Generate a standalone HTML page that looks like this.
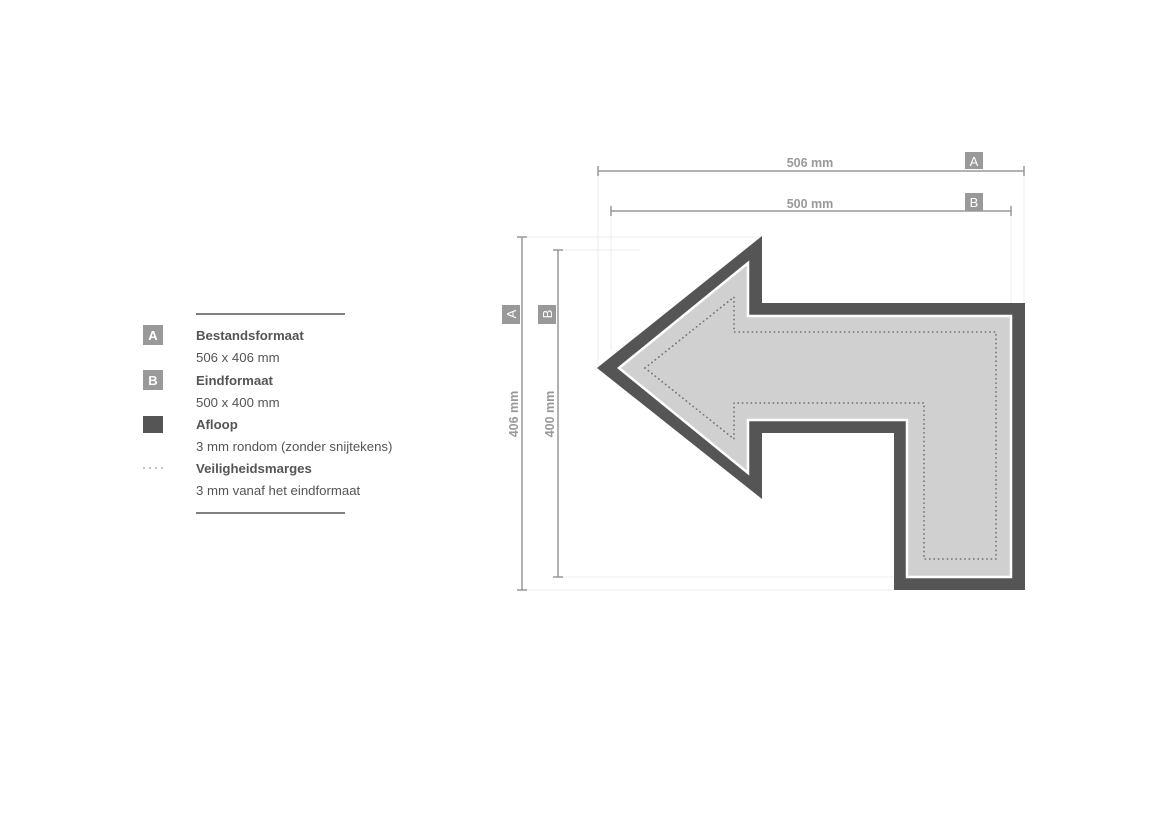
<!DOCTYPE html>
<html><head><meta charset="utf-8"><style>
html,body{margin:0;padding:0;background:#fff;}
body{width:1169px;height:827px;position:relative;overflow:hidden;font-family:"Liberation Sans",Arial,sans-serif;}
</style></head><body>
<svg width="1169" height="827" viewBox="0 0 1169 827" xmlns="http://www.w3.org/2000/svg" style="position:absolute;left:0;top:0">
<g stroke="#ececec" stroke-width="1" fill="none">
<line x1="598" y1="171" x2="598" y2="368"/>
<line x1="611" y1="211" x2="611" y2="350"/>
<line x1="1024" y1="171" x2="1024" y2="303"/>
<line x1="1011" y1="211" x2="1011" y2="316"/>
<line x1="522" y1="237" x2="762" y2="237"/>
<line x1="558" y1="250" x2="640" y2="250"/>
<line x1="558" y1="577" x2="894" y2="577"/>
<line x1="522" y1="590" x2="894" y2="590"/>
</g>
<path d="M597,368 L762,236 L762,303 L1025,303 L1025,590 L894,590 L894,433 L762,433 L762,499 Z" fill="#555"/>
<path d="M619,368 L748,263 L748,316 L1011,316 L1011,577 L907,577 L907,420 L748,420 L748,473 Z" fill="#d0d0d0" stroke="#fff" stroke-width="2.5"/>
<path d="M645,368 L734,297 L734,332 L996,332 L996,559 L924,559 L924,403 L734,403 L734,439 Z" fill="none" stroke="#777" stroke-width="1.8" stroke-dasharray="0.1 4.3" stroke-linecap="round"/>
<g stroke="#999" stroke-width="1.5">
<line x1="598" y1="171" x2="1024" y2="171"/><line x1="598" y1="166" x2="598" y2="176"/><line x1="1024" y1="166" x2="1024" y2="176"/>
<line x1="611" y1="211" x2="1011" y2="211"/><line x1="611" y1="206" x2="611" y2="216"/><line x1="1011" y1="206" x2="1011" y2="216"/>
<line x1="522" y1="237" x2="522" y2="590"/><line x1="517" y1="237" x2="527" y2="237"/><line x1="517" y1="590" x2="527" y2="590"/>
<line x1="558" y1="250" x2="558" y2="577"/><line x1="553" y1="250" x2="563" y2="250"/><line x1="553" y1="577" x2="563" y2="577"/>
</g>
<g font-family="Liberation Sans,Arial,sans-serif" font-weight="bold" font-size="12.5" fill="#999">
<text x="810" y="167" text-anchor="middle">506 mm</text>
<text x="810" y="208" text-anchor="middle">500 mm</text>
<text transform="translate(518,414) rotate(-90)" text-anchor="middle">406 mm</text>
<text transform="translate(554,414) rotate(-90)" text-anchor="middle">400 mm</text>
</g>
<rect x="965" y="152" width="18" height="17" fill="#999"/>
<rect x="965" y="193" width="18" height="18" fill="#999"/>
<rect x="502" y="305" width="18" height="19" fill="#999"/>
<rect x="538" y="305" width="18" height="19" fill="#999"/>
<g font-family="Liberation Sans,Arial,sans-serif" font-size="13" fill="#fff" text-anchor="middle">
<text x="974" y="166">A</text>
<text x="974" y="207">B</text>
<text transform="translate(516,314) rotate(-90)">A</text>
<text transform="translate(552,314) rotate(-90)">B</text>
</g>
<line x1="196" y1="314" x2="345" y2="314" stroke="#555" stroke-width="1.5"/>
<line x1="196" y1="513" x2="345" y2="513" stroke="#555" stroke-width="1.5"/>
<rect x="143" y="325" width="20" height="20" fill="#999"/>
<rect x="143" y="370" width="20" height="20" fill="#999"/>
<rect x="143" y="416" width="20" height="17" fill="#555"/>
<g fill="#999"><circle cx="144" cy="468" r="0.9"/><circle cx="150" cy="468" r="0.9"/><circle cx="156" cy="468" r="0.9"/><circle cx="162" cy="468" r="0.9"/></g>
<g font-family="Liberation Sans,Arial,sans-serif" font-size="13" font-weight="bold" fill="#fff" text-anchor="middle">
<text x="153" y="340">A</text><text x="153" y="385">B</text>
</g>
<g font-family="Liberation Sans,Arial,sans-serif" font-size="13.2" fill="#555">
<text x="196" y="340" font-weight="bold">Bestandsformaat</text>
<text x="196" y="362">506 x 406 mm</text>
<text x="196" y="385" font-weight="bold">Eindformaat</text>
<text x="196" y="407">500 x 400 mm</text>
<text x="196" y="429" font-weight="bold">Afloop</text>
<text x="196" y="451">3 mm rondom (zonder snijtekens)</text>
<text x="196" y="473" font-weight="bold">Veiligheidsmarges</text>
<text x="196" y="495">3 mm vanaf het eindformaat</text>
</g>
</svg>
</body></html>
